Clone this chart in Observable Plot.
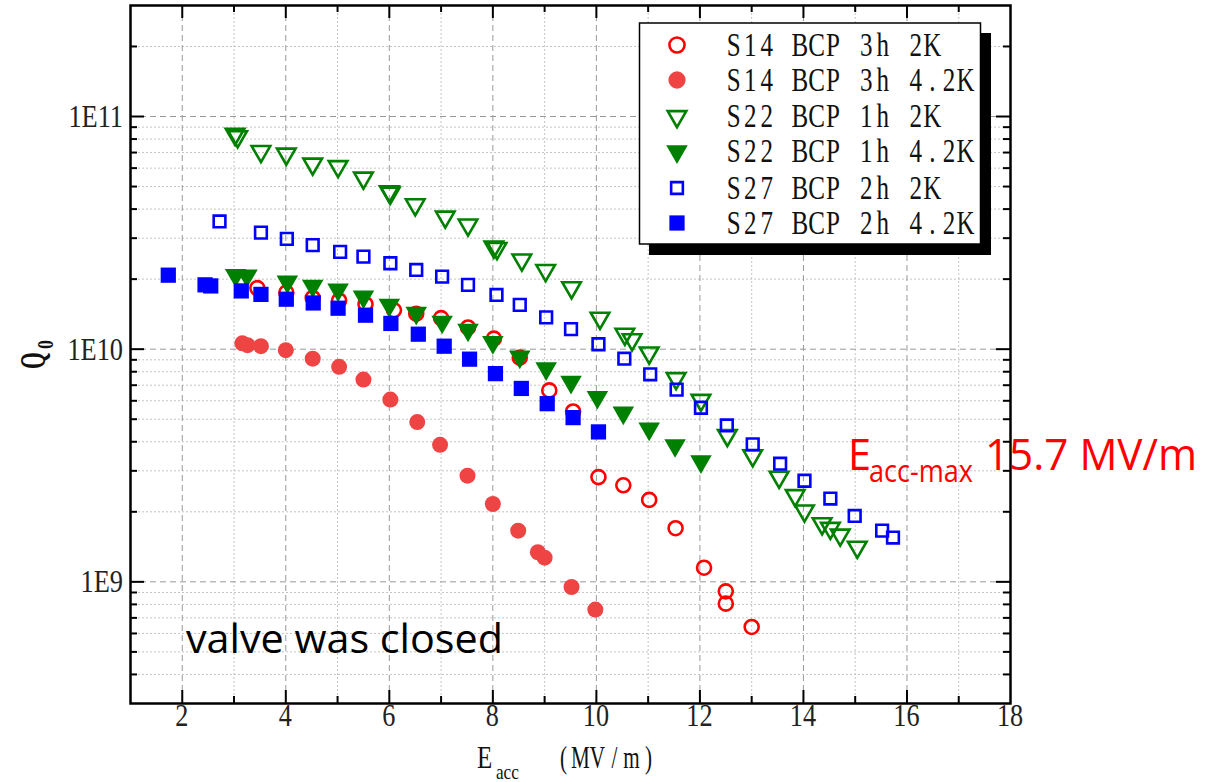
<!DOCTYPE html>
<html><head><meta charset="utf-8">
<script src="https://cdn.jsdelivr.net/npm/d3@7"></script>
<script src="https://cdn.jsdelivr.net/npm/@observablehq/plot@0.6"></script>
<style>html,body{margin:0;padding:0;background:#fff;} #chart{width:1223px;height:782px;}</style>
</head><body><div id="chart"></div>
<script>
// ---- data ----
const seriesLabels = ["S14 BCP 3h 2K","S14 BCP 3h 4.2K","S22 BCP 1h 2K","S22 BCP 1h 4.2K","S27 BCP 2h 2K","S27 BCP 2h 4.2K"];

const s14_2K_E = [3.45,4.01,4.52,5.03,5.54,6.09,6.52,7.0,7.52,8.02,8.52,9.09,9.55,10.04,10.52,11.02,11.53,12.08,12.50,12.50,13.0];
const s14_2K_Q = [1.83e10,1.75e10,1.66e10,1.62e10,1.56e10,1.47e10,1.42e10,1.36e10,1.24e10,1.11e10,9.2e9,6.65e9,5.4e9,2.82e9,2.6e9,2.25e9,1.70e9,1.15e9,9.1e8,8.06e8,6.4e8];

const s14_42K_E = [3.16,3.26,3.52,4.0,4.52,5.03,5.50,6.02,6.54,6.98,7.51,8.0,8.49,8.87,9.0,9.52,9.98];
const s14_42K_Q = [1.06e10,1.04e10,1.03e10,9.9e9,9.1e9,8.4e9,7.4e9,6.07e9,4.86e9,3.88e9,2.86e9,2.16e9,1.66e9,1.34e9,1.27e9,9.5e8,7.6e8];

const s22_2K_E = [3.02,3.07,3.52,4.01,4.52,5.01,5.50,6.0,6.02,6.50,7.08,7.52,8.02,8.08,8.56,9.02,9.52,10.07,10.55,10.69,11.02,11.54,12.02,12.53,13.02,13.53,13.84,14.02,14.36,14.52,14.71,15.04];
const s22_2K_Q = [8.4e10,8.2e10,7.08e10,6.9e10,6.25e10,6.1e10,5.44e10,4.75e10,4.69e10,4.18e10,3.7e10,3.42e10,2.75e10,2.71e10,2.42e10,2.18e10,1.84e10,1.36e10,1.16e10,1.10e10,9.64e9,7.48e9,6.03e9,4.26e9,3.49e9,2.82e9,2.35e9,2.02e9,1.78e9,1.70e9,1.59e9,1.41e9];

const s22_42K_E = [3.03,3.25,4.03,4.52,5.01,5.50,6.0,6.52,7.02,7.52,8.0,8.52,9.03,9.51,10.02,10.52,11.02,11.52,12.02];
const s22_42K_Q = [2.08e10,2.07e10,1.95e10,1.87e10,1.80e10,1.68e10,1.55e10,1.43e10,1.31e10,1.21e10,1.07e10,9.27e9,8.26e9,7.23e9,6.22e9,5.33e9,4.55e9,3.86e9,3.29e9];

const s27_2K_E = [2.72,3.52,4.02,4.52,5.05,5.50,6.02,6.52,7.02,7.52,8.07,8.52,9.03,9.51,10.04,10.54,11.04,11.55,12.02,12.52,13.02,13.55,14.02,14.52,14.99,15.52,15.73];
const s27_2K_Q = [3.54e10,3.17e10,2.98e10,2.8e10,2.62e10,2.50e10,2.34e10,2.19e10,2.05e10,1.89e10,1.71e10,1.55e10,1.37e10,1.22e10,1.05e10,9.1e9,7.8e9,6.7e9,5.6e9,4.7e9,3.9e9,3.22e9,2.72e9,2.28e9,1.92e9,1.66e9,1.55e9];

const s27_42K_E = [1.73,2.44,2.55,3.14,3.52,4.01,4.53,5.01,5.54,6.03,6.56,7.06,7.55,8.05,8.55,9.05,9.55,10.04];
const s27_42K_Q = [2.08e10,1.89e10,1.87e10,1.78e10,1.72e10,1.64e10,1.58e10,1.50e10,1.40e10,1.29e10,1.16e10,1.03e10,9.06e9,7.85e9,6.78e9,5.83e9,5.08e9,4.41e9];

// axis ticks
const xMajor = [2,4,6,8,10,12,14,16];
const xMinor = [3,5,7,9,11,13,15,17];
const xTickLabels = [2,4,6,8,10,12,14,16,18];
const yMajor = [1e9,1e10,1e11];
const yMinor = [4e8,5e8,6e8,7e8,8e8,9e8,2e9,3e9,4e9,5e9,6e9,7e9,8e9,9e9,2e10,3e10,4e10,5e10,6e10,7e10,8e10,9e10,2e11];
const yTickLabels = ["1E9","1E10","1E11"];

// ---- layout ----
const W = 1223, H = 782, mL = 130, mR = 213, mT = 5, mB = 79;
const innerW = W - mL - mR, innerH = H - mT - mB;

const zip = (E, Q) => E.map((e, i) => ({E: e, Q: Q[i]}));
const d1 = zip(s14_2K_E, s14_2K_Q), d2 = zip(s14_42K_E, s14_42K_Q),
      d3s = zip(s22_2K_E, s22_2K_Q), d4 = zip(s22_42K_E, s22_42K_Q),
      d5 = zip(s27_2K_E, s27_2K_Q), d6 = zip(s27_42K_E, s27_42K_Q);

const RED = "#ff0000", RED2 = "#ee4444", GREEN = "#008000", BLUE = "#0000ff";
const styles = [
  {symbol: "circle", r: 7.0, stroke: RED, fill: "none", strokeWidth: 2.6, rotate: 0},
  {symbol: "circle", r: 8.0, stroke: "none", fill: RED2, strokeWidth: 0, rotate: 0},
  {symbol: "triangle", r: 6.9, stroke: GREEN, fill: "none", strokeWidth: 2.6, rotate: 180},
  {symbol: "triangle", r: 8.0, stroke: "none", fill: GREEN, strokeWidth: 0, rotate: 180},
  {symbol: "square", r: 6.6, stroke: BLUE, fill: "none", strokeWidth: 2.6, rotate: 0},
  {symbol: "square", r: 8.6, stroke: "none", fill: BLUE, strokeWidth: 0, rotate: 0}
];
const datasets = [d1, d2, d3s, d4, d5, d6];

const tk = {stroke: "black", strokeWidth: 2};
const plot = Plot.plot({
  width: W, height: H,
  marginLeft: mL, marginRight: mR, marginTop: mT, marginBottom: mB,
  x: {domain: [1, 18], axis: null},
  y: {type: "log", domain: [3e8, 3e11], axis: null},
  style: {background: "white", overflow: "visible"},
  marks: [
    Plot.ruleX(xMinor, {x: d => d, stroke: "#c4c4c4", strokeDasharray: "2,2"}),
    Plot.ruleY(yMinor, {y: d => d, stroke: "#c4c4c4", strokeDasharray: "2,2"}),
    Plot.ruleX(xMajor, {x: d => d, stroke: "#999", strokeDasharray: "6,4"}),
    Plot.ruleY(yMajor, {y: d => d, stroke: "#999", strokeDasharray: "6,4"}),
    ...datasets.map((data, i) => Plot.dot(data, {x: "E", y: "Q", ...styles[i]})),
    Plot.tickX(xMajor, {x: d => d, insetTop: innerH - 13, ...tk}),
    Plot.tickX(xMajor, {x: d => d, insetBottom: innerH - 13, ...tk}),
    Plot.tickX(xMinor, {x: d => d, insetTop: innerH - 7, ...tk}),
    Plot.tickX(xMinor, {x: d => d, insetBottom: innerH - 7, ...tk}),
    Plot.tickY(yMajor, {y: d => d, insetRight: innerW - 14, ...tk}),
    Plot.tickY(yMajor, {y: d => d, insetLeft: innerW - 14, ...tk}),
    Plot.tickY(yMinor, {y: d => d, insetRight: innerW - 7, ...tk}),
    Plot.tickY(yMinor, {y: d => d, insetLeft: innerW - 7, ...tk}),
    Plot.frame({stroke: "black", strokeWidth: 2.5})
  ]
});
document.getElementById("chart").appendChild(plot);

// ---- text, labels and legend ----
const svg = d3.select(plot);
const xs = plot.scale("x"), ys = plot.scale("y");
const SERIF = "'Liberation Serif', 'DejaVu Serif', serif";
const SANS = "'Open Sans', 'Noto Sans', sans-serif";

// x tick labels
const gx = svg.append("g").attr("font-family", SERIF).attr("font-size", 32).attr("text-anchor", "middle").attr("fill", "#222");
xTickLabels.forEach(v => {
  gx.append("text").attr("transform", `translate(${xs.apply(v)},${mT + innerH + 23}) scale(0.82,1)`).text(String(v));
});
// y tick labels
const gy = svg.append("g").attr("font-family", SERIF).attr("font-size", 31).attr("text-anchor", "end").attr("fill", "#222");
yMajor.forEach((v, i) => {
  gy.append("text").attr("transform", `translate(${mL - 7},${ys.apply(v) + 11}) scale(0.85,1)`).text(yTickLabels[i]);
});

// monospace-like text helper
function mono(g, str, x0, yb, cell, fs, sx, fill) {
  const t = g.append("text").attr("transform", `translate(${x0},${yb}) scale(${sx},1)`)
    .attr("font-family", SERIF).attr("font-size", fs).attr("text-anchor", "middle").attr("fill", fill || "#111");
  [...str].forEach((ch, i) => { if (ch !== " ") t.append("tspan").attr("x", (i + 0.5) * cell / sx).attr("y", 0).text(ch); });
  return t;
}

// x axis title: E_acc (MV/m)
const gt = svg.append("g").attr("text-anchor", "start");
gt.append("text").attr("transform", "translate(477,768) scale(0.78,1)").attr("font-family", SERIF).attr("font-size", 32).attr("fill", "#111").text("E");
gt.append("text").attr("transform", "translate(496,779) scale(0.78,1)").attr("font-family", SERIF).attr("font-size", 22).attr("fill", "#111").text("acc");
mono(gt, "(MV/m)", 555, 768, 17, 32, 0.66);

// y axis title: Q0
gt.append("text").attr("transform", "translate(45,369) rotate(-90) scale(0.6,1)").attr("font-family", SERIF).attr("font-weight", "bold").attr("font-size", 36).attr("fill", "#111").text("Q");
gt.append("text").attr("transform", "translate(53,349) rotate(-90) scale(0.75,1)").attr("font-family", SERIF).attr("font-weight", "bold").attr("font-size", 24).attr("fill", "#111").text("0");

// annotations
svg.append("text").attr("x", 186).attr("y", 653).attr("text-anchor", "start").attr("font-family", SANS).attr("font-size", 40).attr("fill", "#000")
  .attr("textLength", 317).attr("lengthAdjust", "spacingAndGlyphs").text("valve was closed");
const ga = svg.append("g").attr("font-family", SANS).attr("fill", RED).attr("text-anchor", "start");
ga.append("text").attr("x", 848).attr("y", 470).attr("font-size", 44).attr("textLength", 23).attr("lengthAdjust", "spacingAndGlyphs").text("E");
ga.append("text").attr("x", 869).attr("y", 482).attr("font-size", 31).attr("textLength", 104).attr("lengthAdjust", "spacingAndGlyphs").text("acc-max");
ga.append("text").attr("x", 985).attr("y", 470).attr("font-size", 44).attr("textLength", 212).attr("lengthAdjust", "spacingAndGlyphs").text("15.7 MV/m");

// legend
const lg = svg.append("g");
lg.append("rect").attr("x", 649).attr("y", 33).attr("width", 342).attr("height", 222).attr("fill", "#000");
lg.append("rect").attr("x", 639.5).attr("y", 23).attr("width", 341).attr("height", 221).attr("fill", "#fff").attr("stroke", "#000").attr("stroke-width", 1.5);
const rowY = [45, 80, 116.5, 151.5, 188, 223];
const symMap = {circle: d3.symbolCircle, triangle: d3.symbolTriangle, square: d3.symbolSquare};
styles.forEach((s, i) => {
  const r = s.symbol === "circle" ? s.r * 1.08 : s.r;
  lg.append("path")
    .attr("d", d3.symbol(symMap[s.symbol], Math.PI * r * r)())
    .attr("transform", `translate(677,${rowY[i]}) rotate(${s.rotate})`)
    .attr("fill", s.fill).attr("stroke", s.stroke).attr("stroke-width", s.strokeWidth);
  mono(lg, seriesLabels[i], 725.5, rowY[i] + 10.5, 16.55, 33, 0.76);
});
</script>
</body></html>
